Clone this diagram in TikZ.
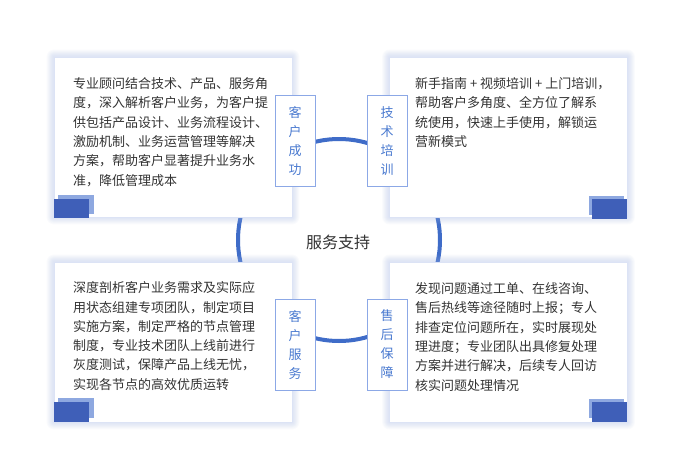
\documentclass[tikz,border=0pt]{standalone}
\usepackage{fontspec}
\setmainfont{Noto Sans CJK SC}
\usetikzlibrary{backgrounds}
\definecolor{txt}{HTML}{333333}
\definecolor{ring}{HTML}{3F6CC8}
\definecolor{lblborder}{HTML}{8CA8E6}
\definecolor{lbltxt}{HTML}{4A7AD0}
\definecolor{sqdark}{HTML}{3F5FB8}
\definecolor{sqlight}{HTML}{8EA8E0}
\definecolor{cardborder}{HTML}{DCE3F5}
\definecolor{shadowc}{HTML}{9FB4E6}
\tikzset{
  card/.style={draw=cardborder, line width=0.6pt, fill=white, minimum width=238pt, minimum height=160pt, inner sep=0pt},
  shadowpiece/.style={fill=shadowc, opacity=0.05},
  desc/.style={anchor=north west, inner sep=0pt, align=left, text=txt, font=\fontsize{13}{19.3}\selectfont},
  lbl/.style={draw=lblborder, line width=0.8pt, fill=white, minimum width=40pt, minimum height=91pt, inner sep=0pt,
    align=center, text=lbltxt, font=\fontsize{13}{19}\selectfont},
  sqd/.style={fill=sqdark, draw=none},
  sql/.style={fill=sqlight, draw=none},
}
\begin{document}
\begin{tikzpicture}[x=1pt,y=-1pt]
\useasboundingbox (0,0) rectangle (697,472);
% cards
\node[card] (c1) at (173,137) {};
\node[card] (c2) at (508.5,137) {};
\node[card] (c3) at (173,342) {};
\node[card] (c4) at (508.5,342) {};
\begin{scope}[on background layer]
\fill[white] (0,0) rectangle (697,472);
\node[circle, draw=ring, line width=4pt, minimum size=202pt, inner sep=0pt] (ringc) at (339,240) {};
\foreach \c in {c1,c2,c3,c4}{
  \foreach \d in {1,2,...,7}{
    \fill[shadowpiece, rounded corners=\d pt] ([shift={(-\d,-\d)}]\c.north west) rectangle ([shift={(\d,\d)}]\c.south east);
  }
}
\end{scope}
% squares
\fill[sql] (58,195) rectangle (94,214);
\fill[sqd] (54,199) rectangle (89,218);
\fill[sql] (589,196) rectangle (624,215);
\fill[sqd] (592,199) rectangle (627,219);
\fill[sql] (58,398) rectangle (94,418);
\fill[sqd] (54,402) rectangle (89,422);
\fill[sql] (589,399) rectangle (624,418);
\fill[sqd] (592,402) rectangle (627,422);
% texts
\node[desc] (t1) at (73,77.5) {专业顾问结合技术、产品、服务角\\度，深入解析客户业务，为客户提\\供包括产品设计、业务流程设计、\\激励机制、业务运营管理等解决\\方案，帮助客户显著提升业务水\\准，降低管理成本};
\node[desc] (t2) at (415,77.5) {新手指南 + 视频培训 + 上门培训，\\帮助客户多角度、全方位了解系\\统使用，快速上手使用，解锁运\\营新模式};
\node[desc] (t3) at (73,281.5) {深度剖析客户业务需求及实际应\\用状态组建专项团队，制定项目\\实施方案，制定严格的节点管理\\制度，专业技术团队上线前进行\\灰度测试，保障产品上线无忧，\\实现各节点的高效优质运转};
\node[desc] (t4) at (415,282.5) {发现问题通过工单、在线咨询、\\售后热线等途径随时上报；专人\\排查定位问题所在，实时展现处\\理进度；专业团队出具修复处理\\方案并进行解决，后续专人回访\\核实问题处理情况};
% labels
\node[lbl] (l1) at (295,141) {客\\户\\成\\功};
\node[lbl] (l2) at (387,141) {技\\术\\培\\训};
\node[lbl] (l3) at (295,344.5) {客\\户\\服\\务};
\node[lbl] (l4) at (387,344.5) {售\\后\\保\\障};
% center
\node[text=txt, font=\fontsize{16}{18}\selectfont, inner sep=0pt] (center) at (338,242) {服务支持};
\end{tikzpicture}
\end{document}
